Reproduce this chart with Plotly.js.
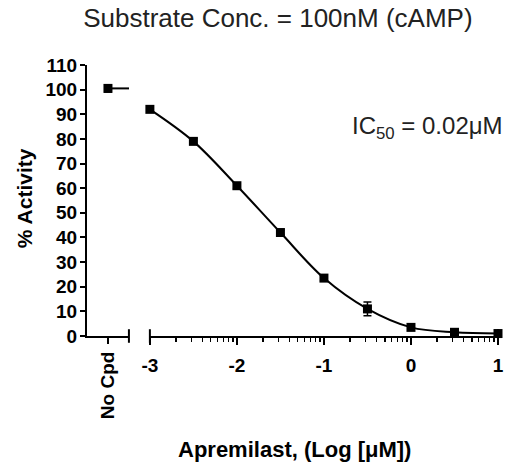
<!DOCTYPE html>
<html>
<head>
<meta charset="utf-8">
<script src="https://cdn.plot.ly/plotly-3.0.1.min.js"></script>
<style>html,body{margin:0;padding:0;background:#fff;}#chart{width:508px;height:468px;}</style>
</head>
<body>
<div id="chart"></div>
<script>
// Data
const noCpdLabel = ["No Cpd"];
const noCpdX = [0];
const noCpdY = [100.5];
const noCpdErr = [1.5];

const logConc = [-3, -2.5, -2, -1.5, -1, -0.5, 0, 0.5, 1];
const activity = [92, 79, 61, 42, 23.5, 11, 3.5, 1.5, 1];
const activityErr = [1, 1.2, 1.2, 1, 1, 2.8, 1, 0.6, 0.6];

const majorTicks = [-3, -2, -1, 0, 1];
const majorTickText = ["-3", "-2", "-1", "0", "1"];
const yTicks = [0,10,20,30,40,50,60,70,80,90,100,110];

// minor log-decade tick positions
const minorTicks = [];
for (let d = -3; d < 1; d++) {
  for (let k = 2; k <= 9; k++) minorTicks.push(d + Math.log10(k));
}

const FONT = "Liberation Sans, Arial, sans-serif";

const traces = [
  {
    x: noCpdX, y: noCpdY, xaxis: 'x', yaxis: 'y',
    mode: 'markers', type: 'scatter',
    marker: {symbol: 'square', size: 9, color: '#000'},
    error_y: {type: 'data', array: noCpdErr, visible: true, color: '#000', thickness: 1.5, width: 4},
    cliponaxis: false, showlegend: false
  },
  {
    x: logConc, y: activity, xaxis: 'x2', yaxis: 'y',
    mode: 'lines+markers', type: 'scatter',
    line: {shape: 'spline', smoothing: 1, color: '#000', width: 2},
    marker: {symbol: 'square', size: 9, color: '#000'},
    error_y: {type: 'data', array: activityErr, visible: true, color: '#000', thickness: 1.5, width: 4},
    cliponaxis: false, showlegend: false
  }
];

const axisCommon = {
  showline: true, linecolor: '#000', linewidth: 2,
  ticks: 'outside', tickcolor: '#000', tickwidth: 2,
  showgrid: false, zeroline: false,
  tickfont: {family: FONT, size: 19, color: '#000', weight: 'bold'}
};

const layout = {
  width: 508, height: 468,
  margin: {l: 87, r: 10, t: 65, b: 132},
  paper_bgcolor: '#fff', plot_bgcolor: '#fff',
  title: {
    text: 'Substrate Conc. = 100nM (cAMP)',
    font: {family: FONT, size: 26, color: '#222'},
    x: 0.547, xref: 'container', xanchor: 'center',
    y: 0.962, yref: 'container', yanchor: 'middle'
  },
  xaxis: Object.assign({}, axisCommon, {
    domain: [0, 0.102], range: [-1, 1],
    tickmode: 'array', tickvals: noCpdX, ticktext: noCpdLabel,
    tickangle: -90, ticklen: 6, anchor: 'y'
  }),
  xaxis2: Object.assign({}, axisCommon, {
    domain: [0.153, 1], range: [-3, 1],
    tickmode: 'array', tickvals: majorTicks, ticktext: majorTickText,
    ticklen: 7, ticklabelstandoff: 4, anchor: 'y',
    minor: {tickmode: 'array', tickvals: minorTicks, ticks: 'outside', ticklen: 4, tickwidth: 1.5, tickcolor: '#000'}
  }),
  yaxis: Object.assign({}, axisCommon, {
    range: [0, 110], tickmode: 'array', tickvals: yTicks,
    ticklen: 5, ticklabelstandoff: -1, anchor: 'x'
  }),
  shapes: [
    // No Cpd top line
    {type: 'line', xref: 'x', yref: 'y', x0: noCpdX[0], x1: 1.1, y0: noCpdY[0], y1: noCpdY[0], line: {color: '#000', width: 2}},
    // break marks
    {type: 'line', xref: 'x domain', yref: 'y domain', x0: 1, x1: 1, y0: -0.025, y1: 0.025, line: {color: '#000', width: 2}},
    {type: 'line', xref: 'x2 domain', yref: 'y domain', x0: 0, x1: 0, y0: -0.025, y1: 0.025, line: {color: '#000', width: 2}},
    {type: 'line', xref: 'x2 domain', yref: 'y domain', x0: 1, x1: 1, y0: -0.025, y1: 0.025, line: {color: '#000', width: 2}}
  ],
  annotations: [
    {text: 'IC<sub>50</sub> = 0.02μM', xref: 'paper', yref: 'paper', x: 1.017, y: 0.771,
     xanchor: 'right', yanchor: 'middle', showarrow: false,
     font: {family: FONT, size: 24, color: '#222'}},
    {text: 'Apremilast, (Log [μM])', xref: 'paper', yref: 'paper', x: 0.506, y: -0.417,
     xanchor: 'center', yanchor: 'middle', showarrow: false,
     font: {family: FONT, size: 22, color: '#000', weight: 'bold'}},
    {text: '% Activity', xref: 'paper', yref: 'paper', x: -0.153, y: 0.509,
     xanchor: 'center', yanchor: 'middle', showarrow: false, textangle: -90,
     font: {family: FONT, size: 21, color: '#000', weight: 'bold'}}
  ]
};

Plotly.newPlot('chart', traces, layout, {displayModeBar: false, staticPlot: true});
</script>
</body>
</html>
